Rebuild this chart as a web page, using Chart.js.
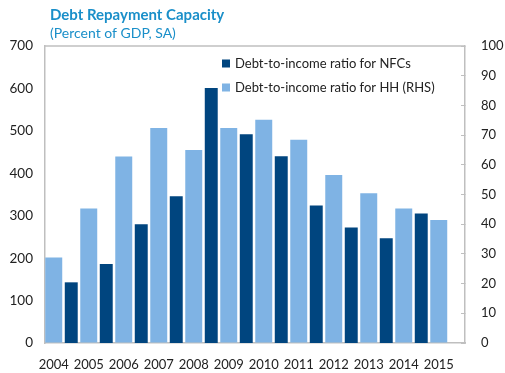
<!DOCTYPE html>
<html>
<head>
<meta charset="utf-8">
<script src="https://cdn.jsdelivr.net/npm/chart.js@4.4.1/dist/chart.umd.min.js"></script>
<style>
  html, body { margin: 0; padding: 0; background: #fff; }
  canvas { display: block; }
</style>
</head>
<body>
<canvas id="grafico" width="505" height="373"></canvas>
<script>
// Dados
const anos = ['2004', '2005', '2006', '2007', '2008', '2009', '2010', '2011', '2012', '2013', '2014', '2015'];
const nfcs = [143, 186, 280, 346, 601, 492, 440, 324, 272, 247, 305]; // eixo esquerdo, 2004-2014
const familias = [28.8, 45.3, 62.8, 72.4, 65.0, 72.4, 75.2, 68.4, 56.6, 50.4, 45.3, 41.4]; // eixo direito
const ticksEsquerda = [0, 700, 100];
const ticksDireita = [0, 100, 10];

const titulo = 'Debt Repayment Capacity';
const subtitulo = '(Percent of GDP, SA)';
const nomeNfc = 'Debt-to-income ratio for NFCs';
const nomeHh = 'Debt-to-income ratio for HH (RHS)';

const corEscura = '#00457f';
const corClara = '#7fb3e4';
const corTitulo = '#1a8fc9';
const corBorda = '#bfbfbf';
const corTexto = '#222222';

Chart.defaults.font.family = 'Lato, "Open Sans", sans-serif';
Chart.defaults.font.size = 13;
Chart.defaults.color = corTexto;

// Cada ano ocupa duas posições: barra clara, depois barra escura
const rotulos = [];
const dadosClaros = [];
const dadosEscuros = [];
anos.forEach((ano, i) => {
    rotulos.push(ano, '');
    dadosClaros.push(familias[i], null);
    dadosEscuros.push(null, nfcs[i] !== undefined ? nfcs[i] : null);
});

// Título, moldura e legenda desenhados à mão
const extras = {
    id: 'extras',
    afterDraw(chart) {
        const ctx = chart.ctx;
        const area = chart.chartArea;
        ctx.save();

        // linha superior da moldura
        ctx.strokeStyle = corBorda;
        ctx.lineWidth = 1.5;
        ctx.beginPath();
        ctx.moveTo(area.left, area.top);
        ctx.lineTo(area.right, area.top);
        ctx.stroke();

        // título
        ctx.fillStyle = corTitulo;
        ctx.textBaseline = 'middle';
        ctx.textAlign = 'left';
        ctx.font = 'bold 15px Lato, sans-serif';
        ctx.fillText(titulo, 50, 15);
        ctx.font = '14px Lato, sans-serif';
        ctx.fillText(subtitulo, 50, 33);

        // legenda
        const itens = [[corEscura, nomeNfc, 63.5], [corClara, nomeHh, 87.5]];
        ctx.font = '13px Lato, sans-serif';
        itens.forEach(([cor, texto, y]) => {
            ctx.fillStyle = cor;
            ctx.fillRect(222, y - 4, 8, 8);
            ctx.fillStyle = corTexto;
            ctx.fillText(texto, 235, y);
        });
        ctx.restore();
    }
};

const ctx = document.getElementById('grafico').getContext('2d');
new Chart(ctx, {
    type: 'bar',
    data: {
        labels: rotulos,
        datasets: [{
            label: nomeHh,
            data: dadosClaros,
            yAxisID: 'y1',
            backgroundColor: corClara,
            grouped: false,
            categoryPercentage: 1,
            barPercentage: 0.97
        }, {
            label: nomeNfc,
            data: dadosEscuros,
            yAxisID: 'y',
            backgroundColor: corEscura,
            grouped: false,
            categoryPercentage: 1,
            barPercentage: 0.74
        }]
    },
    options: {
        responsive: false,
        animation: false,
        layout: { padding: { top: 46, left: 0, right: 0, bottom: 0 } },
        plugins: {
            legend: { display: false },
            title: { display: false },
            tooltip: { enabled: false }
        },
        scales: {
            x: {
                grid: { display: false },
                border: { display: true, color: corBorda, width: 1.5 },
                ticks: { autoSkip: false, maxRotation: 0, minRotation: 0, padding: 6, font: { size: 13 } },
                afterFit: (escala) => { escala.height = 30; }
            },
            y: {
                position: 'left',
                min: ticksEsquerda[0],
                max: ticksEsquerda[1],
                ticks: { stepSize: ticksEsquerda[2], padding: 12, font: { size: 13.5 } },
                grid: { display: false, drawTicks: false },
                border: { display: true, color: corBorda, width: 1.5 },
                afterFit: (escala) => { escala.width = 45; }
            },
            y1: {
                position: 'right',
                min: ticksDireita[0],
                max: ticksDireita[1],
                ticks: { stepSize: ticksDireita[2], padding: 20, font: { size: 13 } },
                grid: { drawOnChartArea: false, drawTicks: true, tickLength: -4, color: corBorda, lineWidth: 1 },
                border: { display: true, color: corBorda, width: 1.5 },
                afterFit: (escala) => { escala.width = 40; }
            }
        }
    },
    plugins: [extras]
});
</script>
</body>
</html>
